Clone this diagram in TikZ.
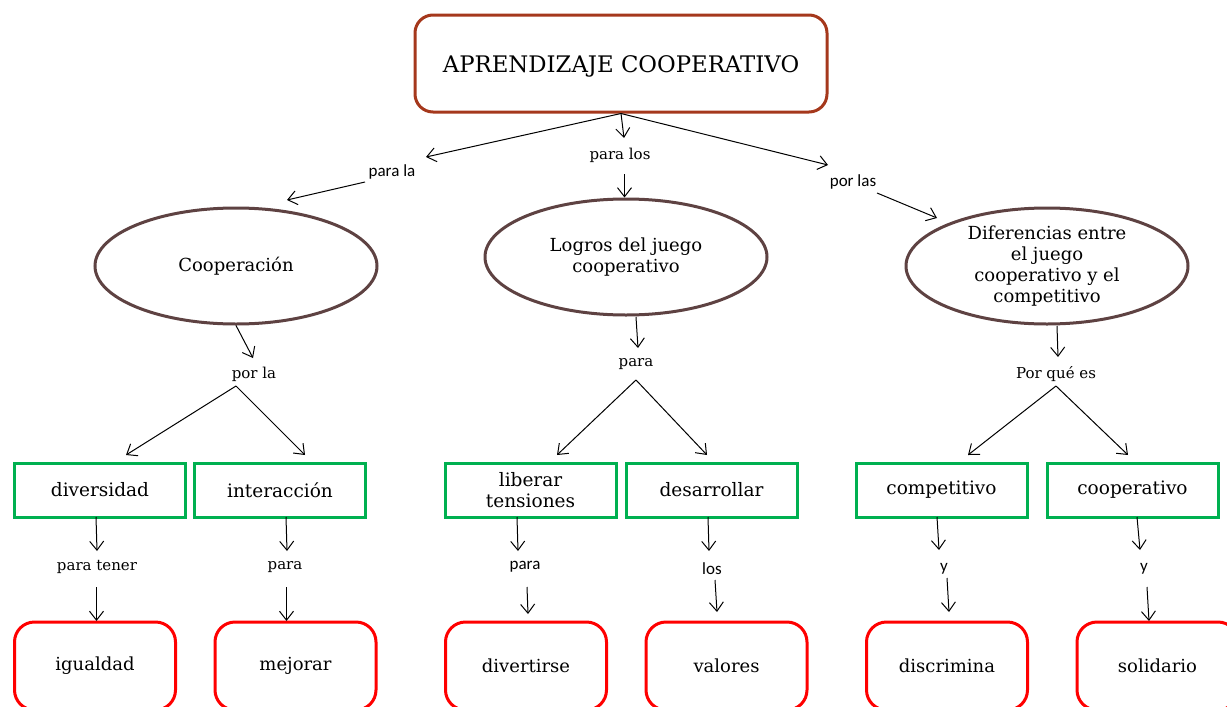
\documentclass[tikz,border=0pt]{standalone}
\usepackage{fontspec}
\setmainfont{DejaVu Serif}
\newfontfamily\lblsans{Carlito}
\usetikzlibrary{shapes.geometric,arrows.meta}
\definecolor{topc}{RGB}{165,56,28}
\definecolor{ellc}{RGB}{94,66,66}
\definecolor{grn}{RGB}{0,176,80}
\definecolor{rd}{RGB}{255,0,0}
\begin{document}
\begin{tikzpicture}[x=1pt,y=-1pt,
  topbox/.style={draw=topc, line width=3pt, rounded corners=18pt, minimum width=412pt, minimum height=97pt, inner sep=0pt, font=\fontsize{22.8}{27}\selectfont},
  ell/.style={ellipse, draw=ellc, line width=3pt, minimum width=282pt, minimum height=116pt, inner sep=0pt, align=center, font=\fontsize{18}{20.8}\selectfont},
  gbox/.style={draw=grn, line width=3pt, minimum width=171pt, minimum height=54pt, inner sep=0pt, align=center, font=\fontsize{18.5}{20.5}\selectfont},
  rbox/.style={draw=rd, line width=3pt, rounded corners=20pt, minimum width=161pt, minimum height=88pt, inner sep=0pt, font=\fontsize{18}{20}\selectfont},
  lbl/.style={inner sep=1pt, font=\fontsize{15}{17}\selectfont},
  slbl/.style={inner sep=1pt, font=\lblsans\fontsize{17}{19}\selectfont},
  arr/.style={-{Straight Barb[length=9pt,width=14pt]}, line width=1pt}]
\useasboundingbox (0,0) rectangle (1227,707);

% main nodes
\node[topbox] (top) at (621,63.5) {\raisebox{-8.5pt}[0pt][0pt]{APRENDIZAJE COOPERATIVO}};
\node[ell] (e1) at (236,266) {Cooperación};
\node[ell] (e2) at (626,257) {Logros del juego\\cooperativo};
\node[ell] (e3) at (1047,266) {Diferencias entre\\el juego\\cooperativo y el\\competitivo};

\node[gbox] (g1) at (100,490) {diversidad};
\node[gbox] (g2) at (280,490) {interacción};
\node[gbox] (g3) at (530.5,490) {liberar\\tensiones};
\node[gbox] (g4) at (711.5,490) {desarrollar};
\node[gbox] (g5) at (941.5,490) {competitivo};
\node[gbox] (g6) at (1132.5,490) {cooperativo};

\node[rbox] (r1) at (95,666) {igualdad};
\node[rbox] (r2) at (295.5,666) {mejorar};
\node[rbox] (r3) at (526,666) {divertirse};
\node[rbox] (r4) at (726.5,666) {valores};
\node[rbox] (r5) at (947,666) {discrimina};
\node[rbox] (r6) at (1157.5,666) {solidario};

% labels
\node[slbl] (lparala) at (392,172) {para la};
\node[lbl] (lparalos) at (620,155) {para los};
\node[slbl] (lporlas) at (853,182) {por las};
\node[lbl] (lporla) at (254,374) {por la};
\node[lbl] (lpara2) at (636,364) {para};
\node[lbl] (lporque) at (1056,374) {Por qué es};
\node[lbl] (ltener) at (97,567) {para tener};
\node[lbl] (lpa1) at (285,567) {para};
\node[slbl] (lpa2) at (525,567) {para};
\node[slbl] (llos) at (712,569) {los};
\node[slbl] (ly1) at (944,569) {y};
\node[slbl] (ly2) at (1144,569) {y};

% free ends
\coordinate (a1) at (426,157);
\coordinate (a2) at (624,138);
\coordinate (a3) at (828,165);
\coordinate (b1) at (365,182);
\coordinate (b1e) at (287,200);
\coordinate (b3) at (877,193);
\coordinate (b3e) at (937,218);

% top connectors
\draw[arr] (top.south) -- (a1);
\draw[arr] (top.south) -- (a2);
\draw[arr] (top.south) -- (a3);
\draw[arr] (b1) -- (b1e);
\draw[arr] (624.5,174) -- (e2.north -| 624.5,0);
\draw[arr] (b3) -- (b3e);

% ellipse 1
\draw[arr] (e1.south) -- (253,358);
\draw[arr] (236,386) -- (126,455);
\draw[arr] (236,386) -- (305,455);
% ellipse 2
\draw[arr] ([xshift=10pt,yshift=-0.5pt]e2.south) -- (638,348);
\draw[arr] (636,380) -- (557,455);
\draw[arr] (636,380) -- (707,455);
% ellipse 3
\draw[arr] ([xshift=10pt,yshift=-0.5pt]e3.south) -- (1058,357);
\draw[arr] (1056,386) -- (968,455);
\draw[arr] (1056,386) -- (1128,455);

% bottom connectors
\draw[arr] (96,517) -- (97,551);
\draw[arr] (96.5,587) -- (96.5,621);
\draw[arr] (286,517) -- (287,551);
\draw[arr] (286.5,587) -- (286.5,621);
\draw[arr] (517,517) -- (518,551);
\draw[arr] (527,587) -- (528,614);
\draw[arr] (708,517) -- (709,551);
\draw[arr] (715,580) -- (717,612);
\draw[arr] (937,517) -- (939,550);
\draw[arr] (947,578) -- (949,612);
\draw[arr] (1137,517) -- (1140,550);
\draw[arr] (1147,587) -- (1149,621);
\end{tikzpicture}
\end{document}
